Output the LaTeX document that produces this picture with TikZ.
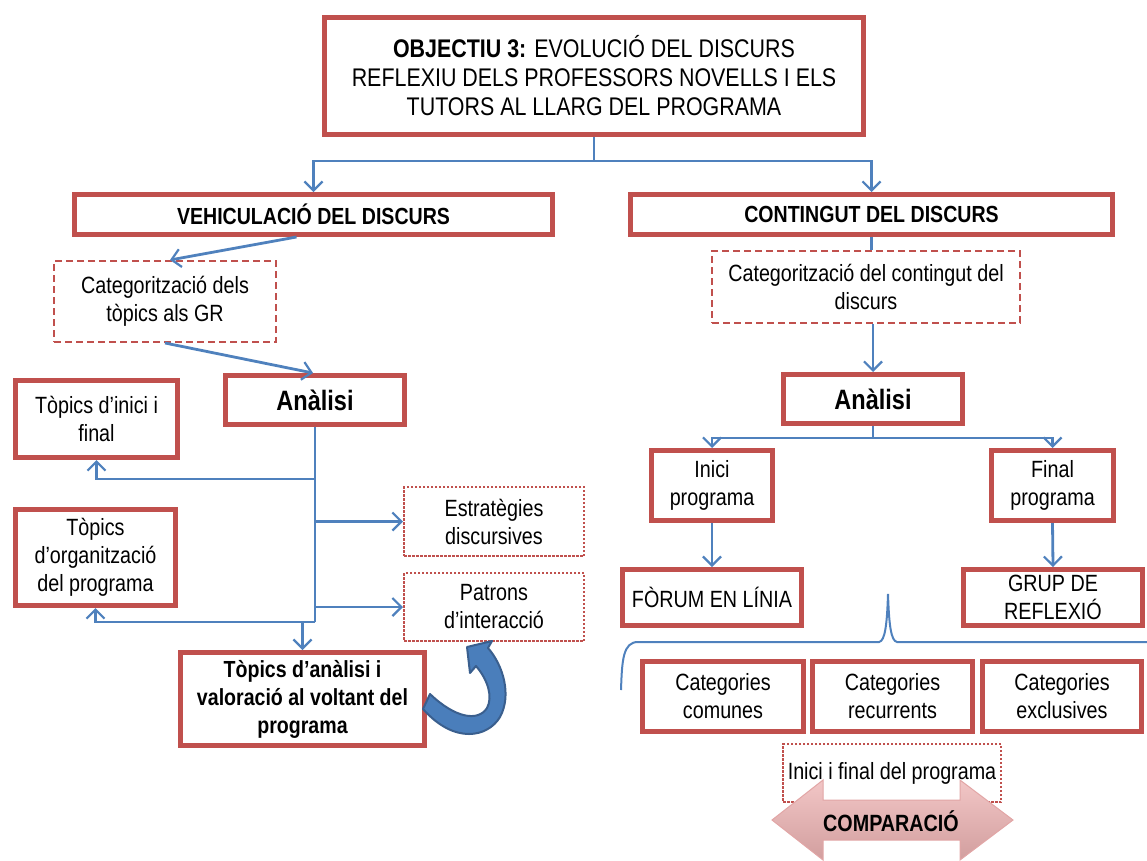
\documentclass[tikz,border=0pt]{standalone}
\usepackage{fontspec}
\setmainfont{Liberation Sans}[FakeStretch=0.84]
\usetikzlibrary{arrows.meta,calc}
\definecolor{boxred}{HTML}{C0504D}
\definecolor{lineblue}{HTML}{4F81BD}
\definecolor{curvefill}{HTML}{4A7EBB}
\definecolor{curveedge}{HTML}{3A5F8E}
\definecolor{pinktop}{HTML}{F2C6C6}
\definecolor{pinkmid}{HTML}{FCEDED}
\definecolor{pinkbot}{HTML}{D29E9E}
\definecolor{pinkedge}{HTML}{E2A6A6}
\begin{document}
\begin{tikzpicture}[x=1pt,y=-1pt,
  body/.style={font=\fontsize{23.5}{28}\selectfont},
  head/.style={font=\bfseries\fontsize{23.3}{28}\selectfont},
  solidbox/.style={draw=boxred, line width=5pt, fill=white, inner sep=0pt, align=center, body},
  dashbox/.style={draw=boxred, line width=2pt, dash pattern=on 7pt off 4pt, fill=white, inner sep=0pt, align=center, body},
  dotbox/.style={draw=boxred, line width=2pt, dash pattern=on 2.5pt off 1.5pt, fill=white, inner sep=0pt, align=center, body},
  wh/.style 2 args={minimum width=#1pt, minimum height=#2pt},
  link/.style={draw=lineblue, line width=2.8pt},
  arr/.style={link, -{Straight Barb[length=9pt,width=18pt,line width=2.2pt]}}
]
\useasboundingbox (0,0) rectangle (1147,860);

% ---- title
\node[solidbox, wh={539}{117}, font=\fontsize{25.5}{29}\selectfont] (obj) at (594,76)
  {\textbf{OBJECTIU 3:} EVOLUCIÓ DEL DISCURS\\REFLEXIU DELS PROFESSORS NOVELLS I ELS\\TUTORS AL LLARG DEL PROGRAMA};

% ---- two main branches
\node[solidbox, wh={478}{40}, head] (veh) at (313.5,214.5) {VEHICULACIÓ DEL DISCURS};
\node[solidbox, wh={482}{40}, head] (cont) at (871.5,214.5) {CONTINGUT DEL DISCURS};

% ---- left branch
\node[dashbox, wh={222}{81}] (catl) at (165,301.5) {Categorització dels\\tòpics als GR};
\node[solidbox, wh={179}{49}, font=\bfseries\fontsize{28}{30}\selectfont] (anl) at (315,400) {Anàlisi};
\node[solidbox, wh={162}{77}] (tin) at (96.5,419) {Tòpics d’inici i\\final};
\node[dotbox, wh={180}{69}] (est) at (494,521.5) {Estratègies\\discursives};
\node[dotbox, wh={180}{68}] (pat) at (494,607) {Patrons\\d’interacció};
\node[solidbox, wh={160}{96}] (torg) at (95.5,557.5) {Tòpics\\d’organització\\del programa};
\node[solidbox, wh={244}{93}, head] (tan) at (302.5,699)
  {Tòpics d’anàlisi i\\valoració al voltant del\\programa};

% ---- right branch
\node[dashbox, wh={308}{72}] (catr) at (866,287) {Categorització del contingut del\\discurs};
\node[solidbox, wh={179}{49}, font=\bfseries\fontsize{28}{30}\selectfont] (anr) at (873,399) {Anàlisi};
\node[solidbox, wh={121}{70}] (ini) at (712,485.5) {Inici\\programa};
\node[solidbox, wh={122}{70}] (fin) at (1052.5,485.5) {Final\\programa};
\node[solidbox, wh={179}{56}] (forum) at (712,597.5) {FÒRUM EN LÍNIA};
\node[solidbox, wh={179}{56}] (grup) at (1053,597.5) {GRUP DE\\REFLEXIÓ};
\node[solidbox, wh={161}{70}] (com) at (723,696) {Categories\\comunes};
\node[solidbox, wh={160}{70}] (rec) at (892.5,696) {Categories\\recurrents};
\node[solidbox, wh={159}{70}] (exc) at (1062,696) {Categories\\exclusives};
\node[dotbox, wh={218}{58}] (ifp) at (892,773) {Inici i final del programa};

% ---- connectors from the title
\coordinate (j0) at ($(obj.south)+(0,24)$);
\draw[link] (obj.south) -- (j0);
\draw[arr] (j0) -| (veh.north);
\draw[arr] (j0) -| (cont.north);

% ---- left connectors
\draw[arr] ($(veh.south)+(-17,0)$) -- ($(catl.north)+(5,0)$);
\draw[arr] (catl.south) -- ($(anl.north)+(-2,0)$);
\coordinate (va) at (anl.south);
\coordinate (vb) at ($(anl.south)+(0,195)$);
\draw[link] (va) -- (vb);
\draw[arr] ($(va)+(0,52)$) -| (tin.south);
\draw[arr] (va |- est.west) -- (est.west);
\draw[arr] (va |- pat.west) -- (pat.west);
\draw[arr] (vb) -| (torg.south);
\draw[arr] (vb) -| (tan.north);

% ---- right connectors
\draw[link] (cont.south) -- (cont.south |- catr.north);
\draw[arr] (anr.north |- catr.south) -- (anr.north);
\coordinate (j1) at ($(anr.south)+(0,12)$);
\draw[link] (anr.south) -- (j1);
\draw[arr] (j1) -| (ini.north);
\draw[arr] (j1) -| (fin.north);
\draw[arr] (ini.south) -- (forum.north);
\draw[arr] (fin.south) -- (grup.north);

% ---- brace gathering both sources over the categories
\draw[lineblue, line width=2pt] (621,690) .. controls (622,660) and (623,642) .. (638,642)
  -- (879,642) .. controls (885,641) and (887,625) .. (888,594)
  .. controls (889,625) and (891,641) .. (897,642) -- (1147,642);

% ---- curved block arrow back to the interaction patterns
\filldraw[fill=curvefill, draw=curveedge, line width=2pt, line join=round]
  (430,694) .. controls (455,718) and (478,722) .. (487,708)
  .. controls (493,697) and (488,680) .. (476,666)
  -- (470,673) -- (467,647) -- (492,641) -- (488,648)
  .. controls (503,665) and (512,695) .. (500,717)
  .. controls (488,737) and (455,745) .. (423,709) -- cycle;

% ---- comparison double arrow
\shade[top color=pinktop, middle color=pinkmid, bottom color=pinkbot, draw=pinkedge, line width=1pt]
  (772,820) -- (823,780) -- (823,800) -- (960,800) -- (960,780) -- (1013,820)
  -- (960,860) -- (960,840) -- (823,840) -- (823,860) -- cycle;
\node[font=\bfseries\fontsize{23.5}{26}\selectfont] (cmp) at (891,821) {COMPARACIÓ};
\end{tikzpicture}
\end{document}
